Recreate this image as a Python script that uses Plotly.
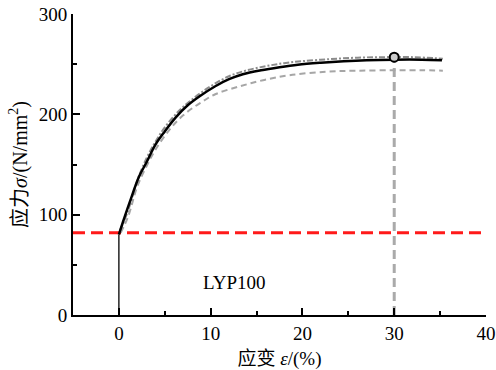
import plotly.graph_objects as go

# Main (black) curve
black_strain = [0, 0, 0.1, 0.6, 1.2, 2.2, 3.0, 4.0, 5.0, 6.2, 7.5, 8.8, 10.5, 12.0, 13.5, 15.5, 17.5, 19.5, 22, 24.5, 27, 30, 33, 35.2]
black_stress = [0, 80, 83, 97, 113, 138, 152, 170, 183, 197, 209, 218, 228, 235, 240, 244, 247, 249.5, 251.5, 253, 254, 254.5, 254.5, 254]

# Upper (dash-dot gray) curve
upper_strain = [0.1, 1, 2, 3, 4, 5, 6.5, 8, 10, 12, 14, 16, 18, 20, 23, 26, 29, 32, 35.3]
upper_stress = [84, 104, 134, 156, 173, 187, 203, 215, 228, 238, 244, 248, 251, 253, 255, 256.5, 257, 257, 255.5]

# Lower (dashed gray) curve
lower_strain = [0.2, 1, 2, 3, 4, 5.5, 7, 8.8, 10.5, 13.2, 15.7, 18.6, 22.6, 26, 30, 33, 35.3]
lower_stress = [82, 98, 128, 148, 165, 184.5, 199, 211, 220, 228, 234, 239, 242.5, 243.5, 244, 244, 243.5]

yield_stress = 82
yield_line_x = [-5, 39.7]
peak_strain = 30
peak_stress = 257
label_text = "LYP100"
label_pos = (12.6, 32)

fig = go.Figure()

fig.add_trace(go.Scatter(x=yield_line_x, y=[yield_stress, yield_stress], mode="lines",
                         line=dict(color="#ff1a1a", width=3, dash="12px,6px"), showlegend=False))
fig.add_trace(go.Scatter(x=[peak_strain, peak_strain], y=[0, peak_stress], mode="lines",
                         line=dict(color="#aaaaaa", width=3, dash="9px,5px"), showlegend=False))
fig.add_trace(go.Scatter(x=lower_strain, y=lower_stress, mode="lines", line_shape="spline",
                         line=dict(color="#a6a6a6", width=2, dash="6px,4px"), showlegend=False))
fig.add_trace(go.Scatter(x=upper_strain, y=upper_stress, mode="lines", line_shape="spline",
                         line=dict(color="#8c8c8c", width=2, dash="6px,2px,2px,2px"), showlegend=False))
fig.add_trace(go.Scatter(x=black_strain[:2], y=black_stress[:2], mode="lines",
                         line=dict(color="#000000", width=1.3), showlegend=False))
fig.add_trace(go.Scatter(x=black_strain[1:], y=black_stress[1:], mode="lines", line_shape="spline",
                         line=dict(color="#000000", width=2.5), showlegend=False))
fig.add_trace(go.Scatter(x=[peak_strain], y=[peak_stress], mode="markers",
                         marker=dict(size=9, color="#cccccc", line=dict(color="#000000", width=2)),
                         showlegend=False))

serif = "Times New Roman, Liberation Serif, Noto Sans CJK SC, serif"
fig.add_annotation(x=label_pos[0], y=label_pos[1], text=label_text, showarrow=False,
                   font=dict(family=serif, size=19, color="#000000"))

fig.update_layout(
    width=496, height=370,
    margin=dict(l=73, r=10, t=14, b=55),
    paper_bgcolor="white", plot_bgcolor="white",
    font=dict(family=serif, size=19, color="#000000"),
    xaxis=dict(range=[-5, 40], tick0=0, dtick=10, ticks="inside", ticklen=7, tickwidth=1.5,
               tickcolor="black", showline=True, linecolor="black", linewidth=2,
               showgrid=False, zeroline=False, automargin=False, ticklabeloverflow="allow",
               minor=dict(tick0=0, dtick=5, ticks="inside", ticklen=4, tickwidth=1.5, tickcolor="black", showgrid=False),
               title=dict(text="应变 <i>ε</i>/(%)", font=dict(size=19), standoff=14)),
    yaxis=dict(range=[0, 300], tick0=0, dtick=100, ticks="inside", ticklen=7, tickwidth=1.5,
               tickcolor="black", showline=True, linecolor="black", linewidth=2,
               showgrid=False, zeroline=False, automargin=False, ticklabeloverflow="allow",
               minor=dict(tick0=0, dtick=50, ticks="inside", ticklen=4, tickwidth=1.5, tickcolor="black", showgrid=False),
               title=dict(text="应力<i>σ</i>/(N/mm<sup>2</sup>)", font=dict(size=20), standoff=6)),
)

fig.write_html("out.html", config={"displayModeBar": False},
               post_script="document.body.style.margin='0';document.body.style.overflow='hidden';")
